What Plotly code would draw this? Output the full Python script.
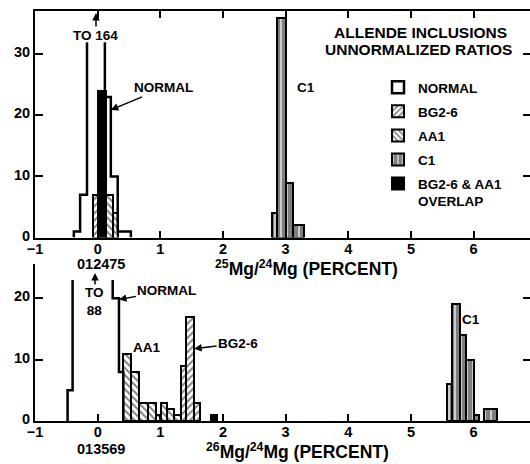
import plotly.graph_objects as go

# ---------------- data ----------------
x_ticks = [-1, 0, 1, 2, 3, 4, 5, 6]
y_ticks_top = [0, 10, 20, 30]
y_ticks_bot = [0, 10, 20]

# top panel: 25Mg/24Mg (percent)
norm25_edges = [-0.38, -0.28, -0.17, 0.115, 0.21, 0.32, 0.53]
norm25_counts = [1, 7, 164, 23, 10, 1]
bg25_lo, bg25_hi, bg25_n = [-0.08], [0.0], [7]
aa25_lo, aa25_hi, aa25_n = [0.13, 0.25], [0.25, 0.32], [7, 4]
ov25_lo, ov25_hi, ov25_n = [0.0], [0.13], [24]
c125_lo = [2.78, 2.87, 3.00, 3.11]
c125_hi = [2.87, 3.00, 3.11, 3.29]
c125_n = [4, 36, 9, 2]

# bottom panel: 26Mg/24Mg (percent)
norm26_edges = [-0.48, -0.40, 0.24, 0.34, 0.41]
norm26_counts = [5, 88, 20, 8]
aa26_lo = [0.41, 0.53, 0.66, 0.80, 0.93, 1.01, 1.11, 1.22]
aa26_hi = [0.53, 0.66, 0.80, 0.93, 1.01, 1.11, 1.22, 1.33]
aa26_n = [11, 8, 3, 3, 1, 3, 2, 1]
bg26_lo, bg26_hi, bg26_n = [1.33, 1.41, 1.53], [1.41, 1.53, 1.63], [9, 17, 3]
ov26_lo, ov26_hi, ov26_n = [1.81], [1.91], [1]
c126_lo = [5.58, 5.66, 5.79, 5.88, 6.00, 6.16]
c126_hi = [5.66, 5.79, 5.88, 6.00, 6.08, 6.37]
c126_n = [6, 19, 14, 10, 1, 2]

# ---------------- style ----------------
FONT = "Liberation Sans, Arial, sans-serif"
CAP25 = 32   # display cut-off for off-scale bins
CAP26 = 23
W, H = 530, 464
ML, MR, MT, MB = 35, 0, 11, 43
XR = [-1.0, 6.9]
YR_TOP = [0, 37.1]
YR_BOT = [0, 25.6]


def step_xy(edges, counts, cap):
    xs, ys = [edges[0]], [0]
    for i, c in enumerate(counts):
        h = min(c, cap)
        xs.append(edges[i]); ys.append(h)
        if c > cap:
            xs.append(None); ys.append(None)
        xs.append(edges[i + 1]); ys.append(h)
    xs.append(edges[-1]); ys.append(0)
    return xs, ys


def bars(lo, hi, n, xa, ya, name, pattern=None, color="white", show=False):
    centers = [(a + b) / 2 for a, b in zip(lo, hi)]
    widths = [b - a for a, b in zip(lo, hi)]
    marker = dict(color=color, line=dict(color="black", width=2))
    if pattern:
        marker["pattern"] = pattern
    return go.Bar(x=centers, y=n, width=widths, xaxis=xa, yaxis=ya, name=name,
                  marker=marker, showlegend=show, legendgroup=name)


pat_bg = dict(shape="/", fgcolor="black", bgcolor="white", size=5, solidity=0.4)
pat_aa = dict(shape="\\", fgcolor="black", bgcolor="white", size=5, solidity=0.4)
pat_c1 = dict(shape="|", fgcolor="black", bgcolor="white", size=6, solidity=0.8)

fig = go.Figure()

# legend-only normal entry
fig.add_trace(go.Bar(x=[None], y=[None], name="NORMAL", legendgroup="NORMAL",
                     marker=dict(color="white", line=dict(color="black", width=2.5)),
                     xaxis="x", yaxis="y"))
fig.add_trace(bars(bg25_lo, bg25_hi, bg25_n, "x", "y", "BG2-6", pat_bg, show=True))
fig.add_trace(bars(aa25_lo, aa25_hi, aa25_n, "x", "y", "AA1", pat_aa, show=True))
fig.add_trace(bars(c125_lo, c125_hi, c125_n, "x", "y", "C1", pat_c1, show=True))
fig.add_trace(bars(ov25_lo, ov25_hi, ov25_n, "x", "y", "BG2-6 & AA1<br>OVERLAP",
                   color="black", show=True))

fig.add_trace(bars(aa26_lo, aa26_hi, aa26_n, "x2", "y2", "AA1", pat_aa))
fig.add_trace(bars(bg26_lo, bg26_hi, bg26_n, "x2", "y2", "BG2-6", pat_bg))
fig.add_trace(bars(c126_lo, c126_hi, c126_n, "x2", "y2", "C1", pat_c1))
fig.add_trace(bars(ov26_lo, ov26_hi, ov26_n, "x2", "y2", "BG2-6 & AA1<br>OVERLAP",
                   color="black"))

sx, sy = step_xy(norm25_edges, norm25_counts, CAP25)
fig.add_trace(go.Scatter(x=sx, y=sy, mode="lines", line=dict(color="black", width=2.5),
                         xaxis="x", yaxis="y", showlegend=False, connectgaps=False))
sx, sy = step_xy(norm26_edges, norm26_counts, CAP26)
fig.add_trace(go.Scatter(x=sx, y=sy, mode="lines", line=dict(color="black", width=2.5),
                         xaxis="x2", yaxis="y2", showlegend=False, connectgaps=False))

# dummy traces so right-side tick axes render
fig.add_trace(go.Scatter(x=[None], y=[None], xaxis="x", yaxis="y3", showlegend=False))
fig.add_trace(go.Scatter(x=[None], y=[None], xaxis="x2", yaxis="y4", showlegend=False))

plot_h = H - MT - MB
plot_w = W - ML - MR


def PX(px):
    return (px - ML) / plot_w


def PY(py):
    return (H - MB - py) / plot_h


top_dom = [PY(237.5), 1.0]
bot_dom = [0.0, PY(264)]

axis_common = dict(showline=True, linecolor="black", linewidth=2, ticks="inside",
                   tickcolor="black", tickwidth=2, showgrid=False, zeroline=False,
                   tickfont=dict(family=FONT, size=14.5, color="black", weight="bold"))

fig.update_layout(
    width=W, height=H, margin=dict(l=ML, r=MR, t=MT, b=MB),
    paper_bgcolor="white", plot_bgcolor="white",
    barmode="overlay", bargap=0,
    font=dict(family=FONT, color="black"),
    xaxis=dict(axis_common, domain=[0, 1], anchor="y", range=XR, tickvals=x_ticks,
               ticklen=7, mirror="ticks", ticklabelstandoff=-3),
    yaxis=dict(axis_common, domain=top_dom, anchor="x", range=YR_TOP,
               tickvals=y_ticks_top, ticklen=8, ticklabelshift=-2),
    xaxis2=dict(axis_common, domain=[0, 1], anchor="y2", range=XR, tickvals=x_ticks,
                ticklen=7, ticklabelstandoff=-3),
    yaxis2=dict(axis_common, domain=bot_dom, anchor="x2", range=YR_BOT,
                tickvals=y_ticks_bot, ticklen=8, ticklabelshift=-2),
    yaxis3=dict(overlaying="y", side="right", anchor="x", range=YR_TOP,
                tickvals=y_ticks_top[1:], ticks="inside", ticklen=7, tickwidth=2,
                tickcolor="black", showticklabels=False, showline=False,
                showgrid=False, zeroline=False),
    yaxis4=dict(overlaying="y2", side="right", anchor="x2", range=YR_BOT,
                tickvals=y_ticks_bot[1:], ticks="inside", ticklen=7, tickwidth=2,
                tickcolor="black", showticklabels=False, showline=False,
                showgrid=False, zeroline=False),
    legend=dict(x=PX(378), y=PY(72), xanchor="left", yanchor="top",
                bgcolor="rgba(0,0,0,0)",
                font=dict(family=FONT, size=13.5, color="black", weight="bold"),
                traceorder="grouped", tracegroupgap=3.5, valign="top"),
    showlegend=True,
)

ann = []


def text(px, py, s, size=13.5):
    ann.append(dict(x=PX(px), y=PY(py), xref="paper", yref="paper", text=s,
                    showarrow=False,
                    font=dict(family=FONT, size=size, color="black", weight="bold"),
                    xanchor="center", yanchor="middle"))


def arrow_up(px, py_head, length):
    ann.append(dict(x=PX(px), y=PY(py_head), xref="paper", yref="paper", text="",
                    showarrow=True, ax=0, ay=length, arrowhead=2, arrowsize=1,
                    arrowwidth=1.5, arrowcolor="black"))


def pointer(x, y, xa, ya, s, ax, ay):
    ann.append(dict(x=x, y=y, xref=xa, yref=ya, text=s, showarrow=True, ax=ax, ay=ay,
                    arrowhead=2, arrowsize=1, arrowwidth=1.5, arrowcolor="black",
                    font=dict(family=FONT, size=13.5, color="black", weight="bold")))


text(420, 32, "ALLENDE INCLUSIONS", 15.5)
text(418, 50, "UNNORMALIZED RATIOS", 15.5)
text(95.5, 35, "TO 164")
arrow_up(96, 13, 15)
pointer(0.21, 20.9, "x", "y", "NORMAL", 53, -22)
text(306, 88, "C1")
text(101, 264, "012475", 14.5)
arrow_up(95, 273, 13)
text(94, 301, "TO<br>88")
pointer(0.34, 19.8, "x2", "y2", "NORMAL", 48, -9)
text(146, 347, "AA1")
pointer(1.54, 11.8, "x2", "y2", "BG2-6", 44, -5)
text(471, 319, "C1")
text(101, 449, "013569", 14.5)
text(306, 268, "<sup>25</sup>Mg/<sup>24</sup>Mg (PERCENT)", 17.5)
text(297, 451, "<sup>26</sup>Mg/<sup>24</sup>Mg (PERCENT)", 17.5)

fig.update_layout(annotations=ann)
fig.write_html("out.html", config={"displayModeBar": False},
               post_script="document.body.style.margin='0px';")
